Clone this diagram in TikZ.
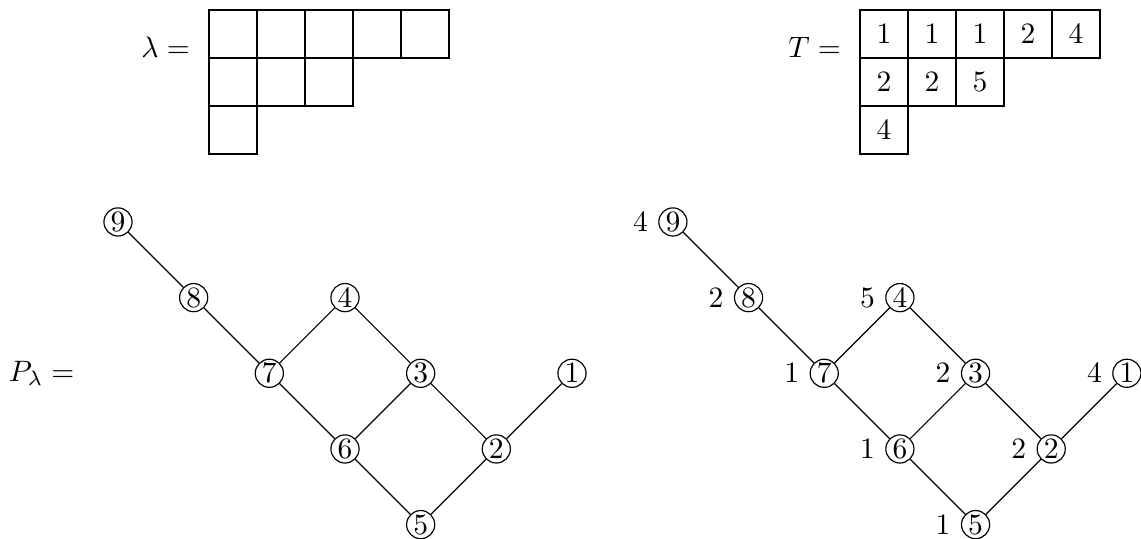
\documentclass[tikz,border=0pt]{standalone}
\usepackage{amsmath}
\usetikzlibrary{positioning}

\begin{document}
\begin{tikzpicture}[
    node distance=0pt,
    cell/.style={draw, minimum size=0.571cm, inner sep=0pt, outer sep=0pt},
    vtx/.style={draw, circle, inner sep=0.5pt},
    eqn/.style={inner sep=0pt},
    wt/.style={label distance=2pt},
]
\useasboundingbox (-1.4035,-3.770) rectangle (12.168,2.640);

% ---- Young diagram lambda ----
\node[cell] at (1.3675,2.2365) (l11) {};
\node[cell, right=of l11] (l12) {};
\node[cell, right=of l12] (l13) {};
\node[cell, right=of l13] (l14) {};
\node[cell, right=of l14] (l15) {};
\node[cell, below=of l11] (l21) {};
\node[cell, right=of l21] (l22) {};
\node[cell, right=of l22] (l23) {};
\node[cell, below=of l21] (l31) {};
\node[eqn, left=0.22cm of l11, yshift=-0.155cm] (lam) {$\lambda =$};

% ---- Tableau T ----
\node[cell] at (9.1105,2.2365) (t11) {$1$};
\node[cell, right=of t11] (t12) {$1$};
\node[cell, right=of t12] (t13) {$1$};
\node[cell, right=of t13] (t14) {$2$};
\node[cell, right=of t14] (t15) {$4$};
\node[cell, below=of t11] (t21) {$2$};
\node[cell, right=of t21] (t22) {$2$};
\node[cell, right=of t22] (t23) {$5$};
\node[cell, below=of t21] (t31) {$4$};
\node[eqn, left=0.22cm of t11, yshift=-0.155cm] (tee) {$T =$};

% ---- Poset P_lambda ----
\node[eqn, anchor=east] at (-0.511,-1.8) (plam) {$P_\lambda =$};
\node[vtx] at (0,0) (a9) {$9$};
\node[vtx] at (0.9,-0.9) (a8) {$8$};
\node[vtx] at (2.7,-0.9) (a4) {$4$};
\node[vtx] at (1.8,-1.8) (a7) {$7$};
\node[vtx] at (3.6,-1.8) (a3) {$3$};
\node[vtx] at (5.4,-1.8) (a1) {$1$};
\node[vtx] at (2.7,-2.7) (a6) {$6$};
\node[vtx] at (4.5,-2.7) (a2) {$2$};
\node[vtx] at (3.6,-3.6) (a5) {$5$};

\draw (a9) -- (a8) -- (a7) -- (a4) -- (a3) -- (a2) -- (a1);
\draw (a7) -- (a6) -- (a3);
\draw (a6) -- (a5) -- (a2);

% ---- Poset labelled by T ----
\node[vtx, wt, label={[name=w9]left:$4$}] at (6.6,0) (b9) {$9$};
\node[vtx, wt, label={[name=w8]left:$2$}] at (7.5,-0.9) (b8) {$8$};
\node[vtx, wt, label={[name=w4]left:$5$}] at (9.3,-0.9) (b4) {$4$};
\node[vtx, wt, label={[name=w7]left:$1$}] at (8.4,-1.8) (b7) {$7$};
\node[vtx, wt, label={[name=w3]left:$2$}] at (10.2,-1.8) (b3) {$3$};
\node[vtx, wt, label={[name=w1]left:$4$}] at (12.0,-1.8) (b1) {$1$};
\node[vtx, wt, label={[name=w6]left:$1$}] at (9.3,-2.7) (b6) {$6$};
\node[vtx, wt, label={[name=w2]left:$2$}] at (11.1,-2.7) (b2) {$2$};
\node[vtx, wt, label={[name=w5]left:$1$}] at (10.2,-3.6) (b5) {$5$};

\draw (b9) -- (b8) -- (b7) -- (b4) -- (b3) -- (b2) -- (b1);
\draw (b7) -- (b6) -- (b3);
\draw (b6) -- (b5) -- (b2);

\end{tikzpicture}
\end{document}
